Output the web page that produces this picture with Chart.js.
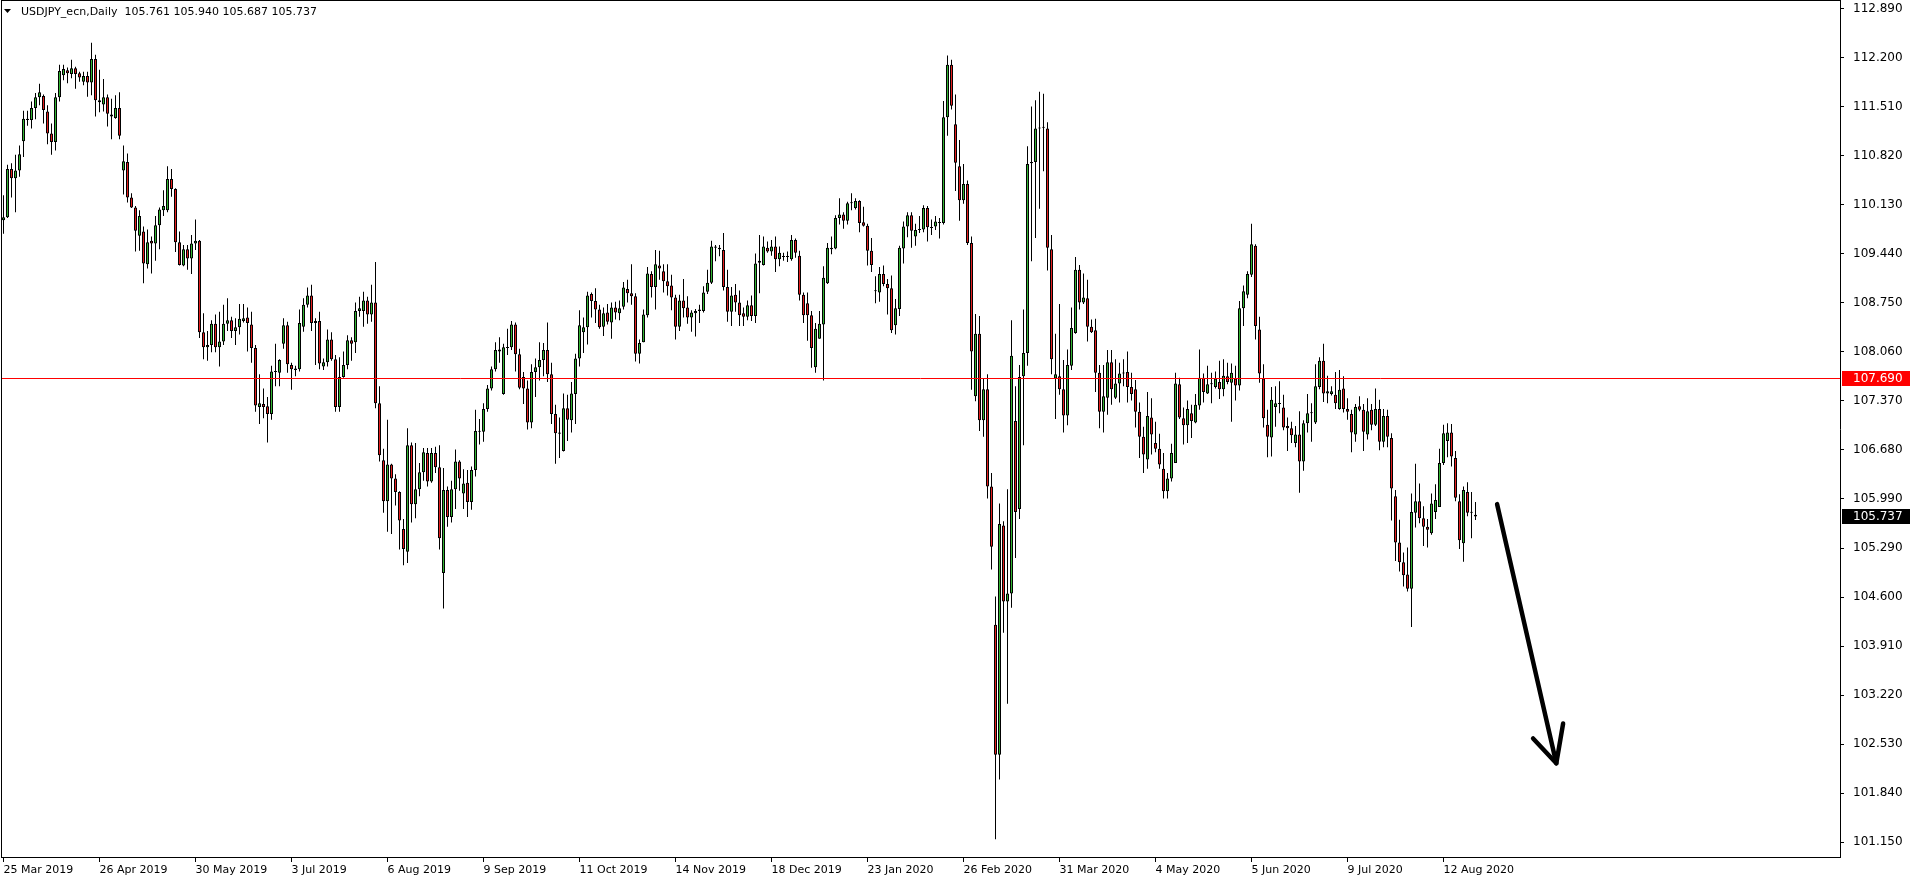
<!DOCTYPE html>
<html>
<head>
<meta charset="utf-8">
<title>USDJPY_ecn,Daily</title>
<script src="https://cdn.jsdelivr.net/npm/chart.js"></script>
<style>
  html, body { margin: 0; padding: 0; background: #fff; overflow: hidden; }
  canvas { display: block; }
</style>
</head>
<body>
<canvas id="chart" width="1916" height="884"></canvas>
<script>
// ============================
// DATA (daily bars)
// ============================

const symbol = 'USDJPY_ecn';
const period = 'Daily';

const open = [
  109.91,109.95,110.63,110.50,110.61,111.02,111.34,111.32,111.49,111.64, // 0
  111.66,111.44,111.13,111.01,111.64,111.95,112.02,111.97,112.05,111.98,
  111.86,111.94,111.85,112.18,111.60,111.54,111.64,111.40,111.35,111.49,
  110.61,110.73,110.23,110.09,109.69,109.75,109.29,109.62,109.58,109.84,
  110.05,110.05,110.49,110.35,109.60,109.27,109.50,109.37,109.58,109.62,
  108.33,108.12,108.15,108.45,108.12,108.20,108.45,108.50,108.35,108.40, // 50
  108.49,108.54,108.44,108.11,107.28,107.32,107.29,107.18,107.78,107.76,
  108.17,108.43,107.87,107.82,107.81,108.41,108.72,108.85,108.46,108.49,
  107.85,107.91,108.23,107.95,107.28,107.70,107.87,108.22,108.19,108.63,
  108.63,108.78,108.58,108.75,107.33,106.53,105.95,106.47,106.27,106.08,
  105.56,105.24,106.74,105.91,106.12,106.36,106.63,106.23,106.63,106.43, // 100
  104.94,106.11,105.73,106.12,106.51,106.06,106.21,105.94,106.39,106.94,
  106.93,107.25,107.54,107.81,108.06,107.46,108.12,108.12,108.44,108.02,
  107.70,107.54,107.06,107.77,107.84,107.94,108.08,107.74,107.18,106.92,
  106.66,107.26,107.09,107.46,107.96,108.33,108.40,108.87,108.77,108.65,
  108.41,108.61,108.47,108.68,108.60,108.69,108.94,108.88,108.84,108.03, // 150
  108.19,108.57,109.15,108.97,109.27,109.19,109.05,108.99,108.82,108.41,
  108.78,108.68,108.54,108.60,108.63,108.63,108.90,109.03,109.54,109.52,
  109.49,108.97,108.62,108.86,108.75,108.60,108.55,108.71,108.56,109.31,
  109.28,109.52,109.47,109.54,109.36,109.40,109.39,109.36,109.63,109.41,
  108.86,108.74,108.57,107.84,108.24,108.44,109.02,109.52,109.51,109.94, // 200
  109.99,109.90,110.15,110.08,110.18,109.88,109.83,109.48,108.92,108.89,
  109.15,109.01,108.95,108.43,108.66,109.51,109.82,109.98,109.68,109.77,
  109.78,110.08,109.81,109.82,109.88,109.87,111.36,112.10,111.26,110.67,
  110.19,110.42,109.59,107.43,108.31,107.09,107.53,106.16,104.21,102.38,
  105.61,104.54,104.65,107.08,105.84,107.71,108.04,110.71,110.73,111.20, // 250
  111.21,111.20,109.50,107.68,107.71,107.53,107.16,107.86,108.32,109.21,
  108.75,108.81,108.41,108.36,107.76,107.21,107.41,107.91,107.41,107.61,
  107.75,107.77,107.56,107.53,107.21,106.86,106.54,107.13,106.77,106.69,
  106.41,106.09,106.27,106.49,107.60,107.12,107.02,107.19,107.06,107.30,
  107.69,107.47,107.60,107.56,107.63,107.53,107.71,107.62,107.68,107.58, // 300
  108.67,108.86,109.14,109.55,108.37,107.68,107.03,106.85,107.28,107.33,
  107.27,107.01,106.98,106.77,106.89,106.51,107.05,107.19,107.06,107.56,
  107.93,107.47,107.46,107.45,107.25,107.54,107.25,107.18,106.89,107.29,
  107.24,106.89,107.24,107.03,107.25,106.79,107.15,106.84,106.02,105.37,
  105.09,104.92,104.72,105.79,105.95,105.71,105.59,105.50,105.80,105.87, // 350
  106.49,106.80,106.92,106.56,105.95,105.36,106.08,105.79,105.761
];

const high = [
  110.26,110.69,110.71,110.83,110.96,111.45,111.45,111.58,111.70,111.83,
  111.68,111.53,111.27,111.70,112.10,112.10,112.06,112.17,112.07,112.00,
  112.00,112.00,112.41,112.24,112.03,111.90,111.68,111.62,111.67,111.71,
  110.96,110.85,110.29,110.11,110.05,109.82,109.78,109.68,109.97,110.09,
  110.33,110.67,110.63,110.36,109.75,109.56,109.56,109.70,109.92,109.63,
  108.60,108.35,108.50,108.58,108.62,108.72,108.81,108.55,108.53,108.73,
  108.73,108.68,108.62,108.15,107.74,107.54,107.42,107.86,108.17,107.95,
  108.53,108.48,107.90,107.86,108.65,108.81,108.96,109.00,108.53,108.62,
  107.96,108.37,108.33,108.01,107.98,108.06,108.29,108.26,108.75,108.83,
  108.90,108.83,109.00,109.32,107.57,106.69,107.10,106.48,106.33,106.09,
  105.70,106.98,106.78,106.77,106.49,106.70,106.70,106.70,106.72,106.74,
  106.42,106.16,106.24,106.68,106.53,106.40,106.39,106.44,107.24,107.11,
  107.33,107.59,107.85,108.19,108.26,108.17,108.38,108.49,108.47,108.10,
  107.77,107.65,107.88,107.96,108.19,108.18,108.47,107.90,107.31,107.13,
  107.47,107.45,107.63,108.03,108.64,108.54,108.90,108.89,108.95,108.72,
  108.68,108.73,108.75,108.76,108.78,109.04,109.07,109.29,108.88,108.23,
  108.65,109.25,109.19,109.49,109.48,109.29,109.29,109.14,108.86,108.86,
  109.08,108.84,108.64,108.66,108.72,108.98,109.21,109.62,109.56,109.56,
  109.73,109.21,108.97,109.01,108.92,108.68,108.78,108.85,109.44,109.70,
  109.68,109.61,109.63,109.68,109.54,109.45,109.47,109.70,109.65,109.48,
  108.89,108.89,108.63,108.46,108.63,109.26,109.59,109.68,109.98,110.22,
  110.02,110.17,110.29,110.22,110.19,110.10,109.86,109.66,109.12,109.25,
  109.27,109.08,109.13,108.80,109.55,109.89,110.02,110.02,109.86,109.97,
  110.12,110.11,109.92,109.97,109.94,111.59,112.23,112.17,111.68,111.04,
  110.70,110.47,109.68,108.59,108.56,107.68,107.74,106.35,104.61,105.92,
  105.67,106.12,108.50,107.57,107.87,108.65,110.95,111.51,111.60,111.72,
  111.69,111.29,109.70,108.31,108.73,107.94,108.09,108.68,109.39,109.28,
  109.16,109.07,108.51,108.52,107.87,107.87,108.08,108.08,107.95,107.90,
  107.95,108.06,107.76,107.66,107.34,107.00,107.49,107.40,107.07,106.90,
  106.63,106.35,106.76,107.76,107.69,107.27,107.37,107.31,107.46,108.09,
  107.75,107.86,107.76,107.78,107.93,107.95,107.90,107.89,107.86,108.77,
  108.99,109.19,109.86,109.57,108.55,107.88,107.24,107.56,107.57,107.64,
  107.45,107.13,107.07,107.01,107.22,107.09,107.46,107.33,107.88,107.98,
  108.17,107.72,107.57,107.77,107.80,107.71,107.40,107.24,107.32,107.43,
  107.32,107.40,107.32,107.54,107.38,107.25,107.24,106.91,106.11,105.69,
  105.23,105.30,106.06,106.48,106.20,105.88,105.70,106.06,106.19,106.69,
  107.03,107.05,107.04,106.66,106.05,106.16,106.22,106.08,105.940
];

const low = [
  109.72,109.94,110.23,110.02,110.52,110.80,111.24,111.20,111.33,111.53,
  111.27,110.98,110.83,110.89,111.58,111.88,111.84,111.91,111.76,111.86,
  111.81,111.65,111.67,111.37,111.43,111.44,111.23,111.05,111.34,111.05,
  110.27,110.16,110.08,109.47,109.48,109.02,109.23,109.16,109.34,109.50,
  109.97,110.02,110.24,109.46,109.27,109.26,109.21,109.15,109.49,108.25,
  107.95,107.93,108.05,108.05,107.85,108.15,108.35,108.25,108.15,108.30,
  108.47,108.06,107.90,107.21,107.04,107.12,106.78,107.10,107.57,107.57,
  108.10,107.76,107.52,107.71,107.78,108.34,108.68,108.35,107.87,107.81,
  107.80,107.85,107.93,107.21,107.21,107.69,107.81,107.93,108.04,108.55,
  108.41,108.45,108.48,107.26,106.51,105.79,105.52,105.49,105.89,105.27,
  105.05,105.08,105.65,105.71,106.02,106.24,106.16,106.21,106.35,105.27,
  104.44,105.59,105.65,105.84,106.10,105.84,105.73,105.83,106.30,106.75,
  106.79,107.21,107.51,107.78,107.90,107.45,108.01,108.08,107.78,107.53,
  107.32,106.96,106.98,107.42,107.65,107.71,107.63,107.04,106.48,106.56,
  106.65,106.80,106.92,107.04,107.85,108.04,108.16,108.54,108.46,108.38,
  108.28,108.44,108.24,108.51,108.50,108.65,108.75,108.72,107.92,107.89,
  108.19,108.54,108.82,108.65,109.07,108.89,108.85,108.64,108.23,108.35,
  108.54,108.45,108.34,108.27,108.46,108.61,108.87,109.01,109.33,109.40,
  108.92,108.48,108.42,108.62,108.42,108.42,108.50,108.49,108.46,108.88,
  109.27,109.45,109.41,109.18,109.26,109.34,109.32,109.34,109.38,108.78,
  108.46,108.21,107.83,107.76,108.24,107.65,109.01,109.43,109.50,109.85,
  109.79,109.85,110.05,110.06,109.74,109.82,109.27,109.18,108.74,108.76,
  108.98,108.58,108.32,108.30,108.56,109.30,109.67,109.52,109.55,109.73,
  109.74,109.61,109.70,109.77,109.65,109.85,111.10,111.47,110.32,109.90,
  110.14,109.56,107.52,107.36,106.94,106.86,105.99,104.99,101.19,102.03,
  104.10,103.10,104.45,105.15,105.70,106.74,107.86,109.33,109.66,110.07,
  110.60,109.20,107.74,107.11,107.45,106.92,107.02,107.80,108.31,108.65,
  108.73,108.20,108.32,107.49,106.98,106.92,107.17,107.31,107.39,107.34,
  107.57,107.34,107.37,106.99,106.56,106.35,106.41,106.61,106.64,106.41,
  105.99,105.99,106.23,106.49,107.11,106.75,106.77,106.84,107.05,107.24,
  107.34,107.46,107.33,107.54,107.39,107.43,107.60,107.07,107.37,107.51,
  108.42,108.81,109.11,108.23,107.62,106.99,106.57,106.58,107.00,107.19,
  106.95,106.66,106.77,106.71,106.07,106.38,106.92,106.79,107.04,107.53,
  107.35,107.33,107.44,107.25,107.24,107.20,107.10,106.64,106.79,107.22,
  106.66,106.82,106.95,107.01,106.67,106.71,106.71,105.68,105.11,104.96,
  104.75,104.68,104.18,105.58,105.64,105.32,105.30,105.48,105.70,105.87,
  106.46,106.57,106.44,105.95,105.28,105.10,105.74,105.43,105.687
];

const close = [
  109.95,110.63,110.50,110.61,110.84,111.34,111.32,111.49,111.64,111.71,
  111.46,111.13,111.01,111.64,112.01,112.04,111.98,112.05,111.97,111.92,
  111.94,111.85,112.18,111.60,111.57,111.64,111.41,111.37,111.49,111.10,
  110.74,110.23,110.09,109.76,109.97,109.30,109.60,109.58,109.84,110.06,
  110.11,110.49,110.35,109.60,109.28,109.50,109.37,109.58,109.62,108.33,
  108.12,108.15,108.45,108.12,108.20,108.45,108.50,108.35,108.40,108.52,
  108.53,108.46,108.11,107.30,107.33,107.28,107.18,107.78,107.77,107.94,
  108.43,107.88,107.81,107.80,108.46,108.72,108.85,108.46,108.49,107.89,
  107.91,108.23,107.95,107.28,107.70,107.87,108.22,108.17,108.63,108.67,
  108.78,108.58,108.75,107.33,106.60,105.95,106.47,106.27,106.08,105.68,
  105.28,106.74,105.91,106.12,106.36,106.64,106.23,106.63,106.43,105.43,
  106.11,105.73,106.12,106.51,106.27,106.20,105.94,106.39,106.94,106.93,
  107.25,107.54,107.81,108.08,108.09,108.12,108.11,108.44,108.02,107.55,
  107.54,107.06,107.77,107.84,107.94,108.08,107.74,107.18,106.91,106.90,
  107.26,107.10,107.47,107.96,108.43,108.40,108.85,108.77,108.65,108.40,
  108.60,108.48,108.68,108.61,108.67,108.96,108.88,108.84,108.03,108.18,
  108.58,109.16,108.97,109.29,109.23,109.05,108.98,108.82,108.41,108.78,
  108.67,108.54,108.61,108.63,108.65,108.89,109.03,109.54,109.52,109.50,
  108.97,108.62,108.85,108.75,108.57,108.55,108.71,108.56,109.30,109.34,
  109.54,109.47,109.54,109.36,109.45,109.39,109.40,109.63,109.45,108.86,
  108.57,108.57,108.11,108.38,108.45,109.10,109.52,109.50,109.94,109.99,
  109.90,110.15,110.16,110.18,109.87,109.83,109.48,109.28,108.91,109.15,
  109.01,108.95,108.36,108.67,109.52,109.82,109.98,109.76,109.77,109.78,
  110.08,109.81,109.80,109.89,109.87,111.36,112.10,111.52,110.72,110.19,
  110.42,109.59,108.06,108.31,107.09,107.53,106.16,105.31,102.38,105.63,
  104.54,104.65,108.00,105.80,107.70,108.04,110.70,110.73,111.20,111.21,
  111.22,109.52,107.95,107.74,107.53,107.16,107.87,108.39,109.21,108.75,
  108.82,108.41,108.33,107.76,107.21,107.43,107.91,107.53,107.61,107.75,
  107.76,107.56,107.46,107.21,106.86,106.61,107.15,106.89,106.69,106.47,
  106.09,106.27,106.63,107.61,107.13,107.02,107.25,107.08,107.31,107.69,
  107.49,107.60,107.61,107.68,107.53,107.72,107.63,107.76,107.58,108.67,
  108.91,109.15,109.57,108.42,107.75,107.12,106.86,107.38,107.33,107.32,
  106.99,106.98,106.88,106.89,106.51,107.05,107.19,107.20,107.57,107.93,
  107.47,107.50,107.50,107.33,107.52,107.25,107.21,106.92,107.28,107.24,
  106.93,107.22,107.03,107.25,106.79,107.15,106.86,106.13,105.37,105.09,
  104.91,104.72,105.80,105.95,105.71,105.59,105.55,105.92,105.97,106.49,
  106.91,106.92,106.58,106.00,105.40,106.11,105.79,105.80,105.737
];

// date labels on the time axis and the bar each one sits on
const dateTickLabels = ['25 Mar 2019', '26 Apr 2019', '30 May 2019', '3 Jul 2019', '6 Aug 2019',
  '9 Sep 2019', '11 Oct 2019', '14 Nov 2019', '18 Dec 2019', '23 Jan 2020', '26 Feb 2020',
  '31 Mar 2020', '4 May 2020', '5 Jun 2020', '9 Jul 2020', '12 Aug 2020'];
const dateTickBars = [0, 24, 48, 72, 96, 120, 144, 168, 192, 216, 240, 264, 288, 312, 336, 360];

// price scale labels
const priceTickLabels = ['112.890', '112.200', '111.510', '110.820', '110.130', '109.440', '108.750',
  '108.060', '107.370', '106.680', '105.990', '105.290', '104.600', '103.910', '103.220',
  '102.530', '101.840', '101.150'];

// horizontal level drawn in red
const levelPrice = 107.69;

// hand drawn arrow (bar index, price)
const arrowShaft = [[373.4, 105.91], [388.2, 102.26]];
const arrowHead  = [[382.4, 102.61], [388.2, 102.26], [389.9, 102.82]];

// ============================
// STYLE
// ============================

const BULL = '#32b432';
const BEAR = '#e41e1e';
const FONT = 'DejaVu Sans';

// ============================
// DATASETS
// ============================

const bodyData   = open.map((o, i) => ({ x: i, y: [o, close[i]] }));
const wickData   = high.map((h, i) => ({ x: i, y: [low[i], h] }));
const bodyColors = open.map((o, i) => (close[i] >= o ? BULL : BEAR));

// ============================
// OVERLAYS (frame, header, level, price boxes, arrow)
// ============================

function priceBox(ctx, y, text, bg) {
    ctx.fillStyle = bg;
    ctx.fillRect(1842, Math.round(y) - 7, 68, 15);
    ctx.fillStyle = '#fff';
    ctx.font = '12px "' + FONT + '"';
    ctx.textAlign = 'left';
    ctx.textBaseline = 'middle';
    ctx.fillText(text, 1853, Math.round(y) + 0.5);
}

const overlay = {
    id: 'overlay',
    afterDatasetsDraw(chart) {
        const { ctx, chartArea: a, scales: { x, y } } = chart;

        // level line
        const ly = Math.round(y.getPixelForValue(levelPrice)) + 0.5;
        ctx.save();
        ctx.strokeStyle = '#ff0000';
        ctx.lineWidth = 1;
        ctx.beginPath();
        ctx.moveTo(a.left, ly);
        ctx.lineTo(a.right, ly);
        ctx.stroke();

        // arrow
        ctx.strokeStyle = '#000';
        ctx.lineWidth = 4.5;
        ctx.lineCap = 'round';
        ctx.lineJoin = 'round';
        ctx.beginPath();
        ctx.moveTo(x.getPixelForValue(arrowShaft[0][0]), y.getPixelForValue(arrowShaft[0][1]));
        ctx.lineTo(x.getPixelForValue(arrowShaft[1][0]), y.getPixelForValue(arrowShaft[1][1]));
        ctx.stroke();
        ctx.beginPath();
        arrowHead.forEach(([bx, p], k) => {
            const px = x.getPixelForValue(bx), py = y.getPixelForValue(p);
            if (k === 0) ctx.moveTo(px, py); else ctx.lineTo(px, py);
        });
        ctx.stroke();
        ctx.restore();
    },
    afterDraw(chart) {
        const { ctx, chartArea: a, scales: { y } } = chart;
        ctx.save();

        // top and left edges of the frame
        ctx.fillStyle = '#000';
        ctx.fillRect(1, 0, a.right, 1);
        ctx.fillRect(1, 0, 1, a.bottom + 1);

        // header
        ctx.beginPath();
        ctx.moveTo(4, 9);
        ctx.lineTo(11, 9);
        ctx.lineTo(7.5, 13);
        ctx.closePath();
        ctx.fill();
        const last = close.length - 1;
        const header = symbol + ',' + period + '  ' +
            [open[last], high[last], low[last], close[last]].map(v => v.toFixed(3)).join(' ');
        ctx.font = '11px "' + FONT + '"';
        ctx.textAlign = 'left';
        ctx.textBaseline = 'middle';
        ctx.fillStyle = '#000';
        ctx.fillText(header, 21, 12);

        // price boxes on the scale
        priceBox(ctx, y.getPixelForValue(levelPrice), levelPrice.toFixed(3), '#ff0000');
        priceBox(ctx, y.getPixelForValue(close[last]), close[last].toFixed(3), '#000');
        ctx.restore();
    }
};

// ============================
// CHART
// ============================

const ctx = document.getElementById('chart').getContext('2d');

const chart = new Chart(ctx, {
    type: 'bar',
    data: {
        datasets: [
            {
                label: 'body',
                data: bodyData,
                backgroundColor: bodyColors,
                borderColor: '#000',
                borderWidth: 1,
                borderSkipped: false,
                barThickness: 3,
                minBarLength: 1,
                inflateAmount: 0,
                grouped: false,
                order: 0
            },
            {
                label: 'wick',
                data: wickData,
                backgroundColor: '#000',
                borderWidth: 0,
                barThickness: 1,
                inflateAmount: 0,
                grouped: false,
                order: 1
            }
        ]
    },
    options: {
        responsive: false,
        devicePixelRatio: 1,
        animation: false,
        events: [],
        layout: { padding: { left: 1, top: 1, right: 0, bottom: 0 } },
        plugins: {
            legend: { display: false },
            tooltip: { enabled: false }
        },
        scales: {
            x: {
                type: 'linear',
                offset: false,
                min: -0.625,
                max: 459.125,
                grid: { offset: false, drawOnChartArea: false, drawTicks: true, tickLength: 5, color: '#000', tickColor: '#000' },
                border: { display: true, color: '#000', width: 1 },
                ticks: {
                    align: 'start',
                    padding: 2,
                    color: '#000',
                    font: { family: FONT, size: 11 },
                    autoSkip: false,
                    maxRotation: 0,
                    callback: v => {
                        const k = dateTickBars.indexOf(v);
                        return k >= 0 ? dateTickLabels[k] : '';
                    }
                },
                afterBuildTicks: s => { s.ticks = dateTickBars.map(v => ({ value: v })); },
                afterFit: s => { s.height = 27; s.paddingLeft = 0; s.paddingRight = 0; }
            },
            y: {
                type: 'linear',
                position: 'right',
                min: 100.94,
                max: 112.997,
                grid: { drawOnChartArea: false, drawTicks: true, tickLength: 4, color: '#000', tickColor: '#000' },
                border: { display: true, color: '#000', width: 1 },
                ticks: {
                    padding: 9,
                    color: '#000',
                    font: { family: FONT, size: 12 },
                    autoSkip: false,
                    callback: v => priceTickLabels.find(s => parseFloat(s) === v) || ''
                },
                afterBuildTicks: s => { s.ticks = priceTickLabels.map(t => ({ value: parseFloat(t) })); },
                afterFit: s => { s.width = 76; s.paddingTop = 0; s.paddingBottom = 0; }
            }
        }
    },
    plugins: [overlay]
});
</script>
</body>
</html>
